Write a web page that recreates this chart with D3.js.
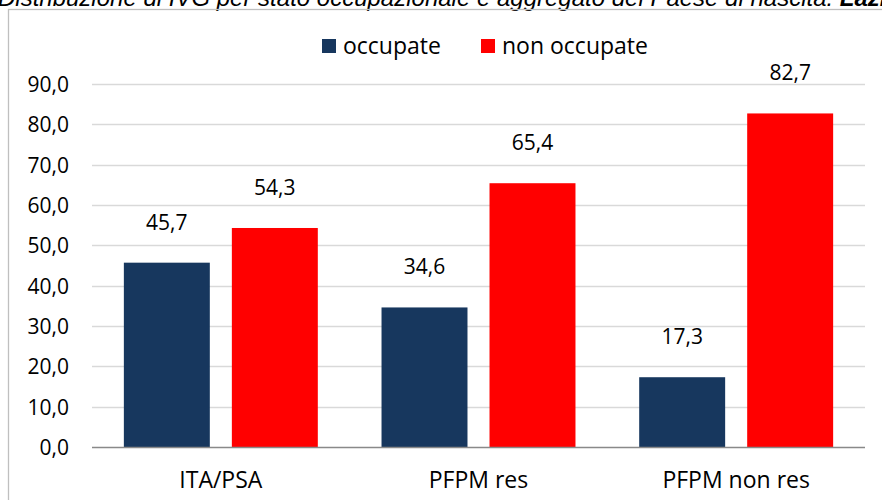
<!DOCTYPE html>
<html>
  <head>
    <style>
      body { margin: 0; padding: 0; overflow: hidden; background: #fff; }
      svg { display: block; }
    </style>
    <script src="https://cdn.jsdelivr.net/npm/d3@7/dist/d3.min.js"></script>
  </head>
  <body>
    <svg width="882" height="500"></svg>
    <script>
      // dati
      const categories = ['ITA/PSA', 'PFPM res', 'PFPM non res'];
      const series = ['occupate', 'non occupate'];
      const occupate = [45.7, 34.6, 17.3];
      const nonOccupate = [54.3, 65.4, 82.7];
      const yTicks = [0, 10, 20, 30, 40, 50, 60, 70, 80, 90];
      const colors = ['#17375e', '#ff0000'];

      const svg = d3.select('svg');
      const font = '"Open Sans", sans-serif';
      const fsNum = 21;
      const fsTxt = 23;
      const fmt = v => d3.format('.1f')(v).replace('.', ',');

      // titolo (tagliato in alto come nell'originale)
      const title = svg.append('text')
        .attr('x', -2).attr('y', 6)
        .attr('font-family', '"Liberation Sans", Arial, sans-serif')
        .attr('font-style', 'italic')
        .attr('font-size', 24)
        .attr('fill', '#000');
      title.append('tspan').text('Distribuzione di IVG per stato occupazionale e aggregato del Paese di nascita. ');
      title.append('tspan').attr('font-weight', 'bold').text('Lazio');

      // cornice
      svg.append('rect')
        .attr('x', 8.5).attr('y', 9.5)
        .attr('width', 900).attr('height', 520)
        .attr('fill', 'none').attr('stroke', '#bfbfbf').attr('stroke-width', 1.3);

      const x0 = d3.scaleBand().domain(categories).range([92, 865]).paddingInner(0).paddingOuter(0);
      const x1 = d3.scaleBand().domain(series).range([0, x0.bandwidth()]).paddingInner(0.204).paddingOuter(0.295);
      const y = d3.scaleLinear().domain([0, 90]).range([447, 84]);

      // griglia
      svg.append('g').selectAll('line')
        .data(yTicks.filter(d => d > 0))
        .join('line')
        .attr('x1', 92).attr('x2', 865)
        .attr('y1', d => Math.round(y(d)) + 0.5).attr('y2', d => Math.round(y(d)) + 0.5)
        .attr('stroke', '#d9d9d9').attr('stroke-width', 1.5);

      // etichette asse y
      svg.append('g').selectAll('text')
        .data(yTicks)
        .join('text')
        .attr('x', 69).attr('y', d => y(d) + 8)
        .attr('text-anchor', 'end')
        .attr('font-family', font).attr('font-size', fsNum)
        .attr('fill', '#000')
        .text(fmt);

      // barre
      const groups = svg.append('g').selectAll('g')
        .data(categories.map((c, i) => ({ c, vals: [occupate[i], nonOccupate[i]] })))
        .join('g')
        .attr('transform', d => `translate(${x0(d.c)},0)`);

      groups.selectAll('rect')
        .data(d => d.vals.map((v, j) => ({ v, s: series[j], j })))
        .join('rect')
        .attr('x', d => x1(d.s))
        .attr('width', x1.bandwidth())
        .attr('y', d => y(d.v))
        .attr('height', d => y(0) - y(d.v))
        .attr('fill', d => colors[d.j]);

      groups.selectAll('text.val')
        .data(d => d.vals.map((v, j) => ({ v, s: series[j] })))
        .join('text')
        .attr('class', 'val')
        .attr('x', d => x1(d.s) + x1.bandwidth() / 2)
        .attr('y', d => y(d.v) - 33)
        .attr('text-anchor', 'middle')
        .attr('font-family', font).attr('font-size', fsNum)
        .attr('fill', '#000')
        .text(d => fmt(d.v));

      // asse x
      svg.append('line')
        .attr('x1', 92).attr('x2', 865)
        .attr('y1', y(0) + 0.5).attr('y2', y(0) + 0.5)
        .attr('stroke', '#898989').attr('stroke-width', 1.5);

      svg.append('g').selectAll('text')
        .data(categories)
        .join('text')
        .attr('x', d => x0(d) + x0.bandwidth() / 2)
        .attr('y', 488)
        .attr('text-anchor', 'middle')
        .attr('font-family', font).attr('font-size', fsTxt)
        .attr('fill', '#000')
        .text(d => d);

      // legenda
      const legend = svg.append('g');
      const legendX = [322, 481];
      series.forEach((s, i) => {
        legend.append('rect')
          .attr('x', legendX[i]).attr('y', 39)
          .attr('width', 14).attr('height', 14)
          .attr('fill', colors[i]);
        legend.append('text')
          .attr('x', legendX[i] + 21).attr('y', 54)
          .attr('font-family', font).attr('font-size', fsTxt)
          .attr('fill', '#000')
          .text(s);
      });
    </script>
  </body>
</html>
